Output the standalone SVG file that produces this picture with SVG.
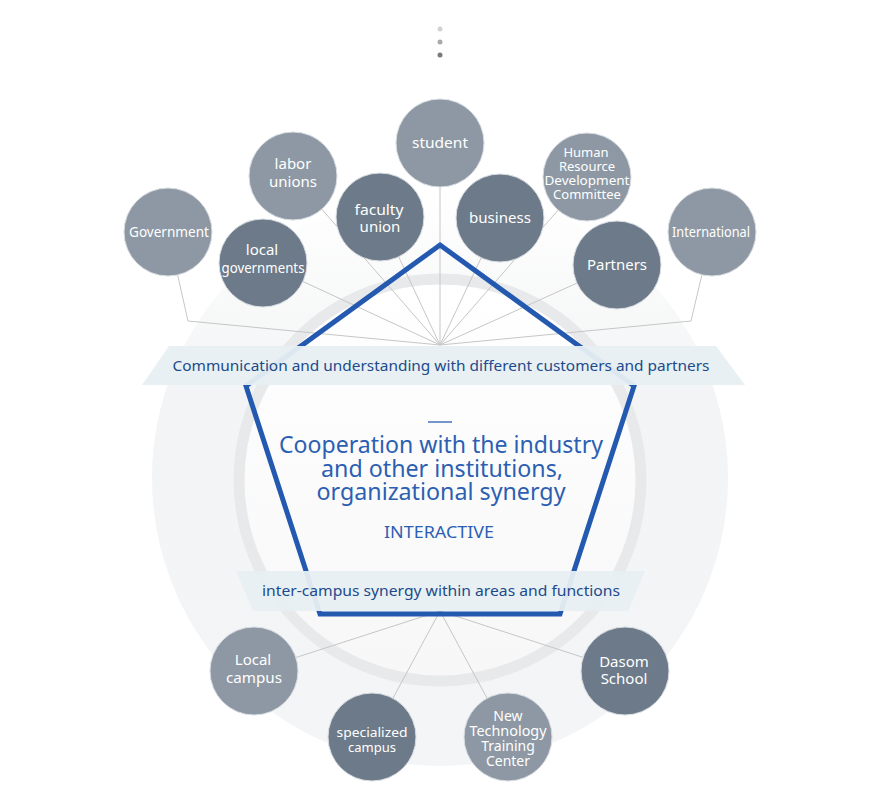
<svg xmlns="http://www.w3.org/2000/svg" width="880" height="806" viewBox="0 0 880 806">
<defs>
<linearGradient id="disc" x1="0" y1="0" x2="0" y2="1">
<stop offset="0" stop-color="#ffffff"/>
<stop offset="0.35" stop-color="#f3f4f5"/>
<stop offset="1" stop-color="#f4f5f6"/>
</linearGradient>
<linearGradient id="inner" x1="0" y1="0" x2="0" y2="1">
<stop offset="0" stop-color="#ffffff"/>
<stop offset="1" stop-color="#f7f7f8"/>
</linearGradient>
<style>
.light{fill:#8d98a4;stroke:#d9dde2;stroke-width:1}
.dark{fill:#6c7a89;stroke:#d9dde2;stroke-width:1}
.nt{font-family:"Noto Sans","Liberation Sans",sans-serif;font-size:15px;fill:#ffffff;text-anchor:middle}
.sm{font-size:13px}
.conn{fill:none;stroke:#c6c6c6;stroke-width:1}
.band{fill:#e7eff3;fill-opacity:0.95}
.bt{font-family:"Noto Sans","Liberation Sans",sans-serif;font-size:15px;fill:#1d4a8a;text-anchor:middle}
.title{font-family:"Noto Sans","Liberation Sans",sans-serif;font-size:23px;fill:#2c5fb2;text-anchor:middle}
</style>
</defs>
<rect width="880" height="806" fill="#ffffff"/>
<g id="dots">
<circle cx="440" cy="29" r="2.5" fill="#d2d2d2"/>
<circle cx="440" cy="42" r="2.5" fill="#a9a9a9"/>
<circle cx="440" cy="55" r="2.5" fill="#7a7a7a"/>
</g>
<g id="background">
<circle cx="440" cy="478" r="288" fill="url(#disc)"/>
<circle cx="440" cy="480" r="201" fill="url(#inner)" stroke="#e8e9ea" stroke-width="11"/>
</g>
<g id="connectors">
<line class="conn" x1="440" y1="143" x2="440" y2="345"/>
<line class="conn" x1="293" y1="176" x2="440" y2="345"/>
<polyline class="conn" points="168,232 188,321 440,345"/>
<line class="conn" x1="263" y1="263" x2="440" y2="345"/>
<line class="conn" x1="380" y1="217" x2="440" y2="345"/>
<line class="conn" x1="500" y1="218" x2="440" y2="345"/>
<line class="conn" x1="587" y1="177" x2="440" y2="345"/>
<line class="conn" x1="617" y1="265" x2="440" y2="345"/>
<polyline class="conn" points="712,232 691,321 440,345"/>
<line class="conn" x1="254" y1="671" x2="440" y2="611"/>
<line class="conn" x1="372" y1="737" x2="440" y2="611"/>
<line class="conn" x1="508" y1="737" x2="440" y2="611"/>
<line class="conn" x1="625" y1="671" x2="440" y2="611"/>
</g>
<g id="pentagon">
<polygon points="440,245 634,386 560,614 320,614 246,386" fill="none" stroke="#2459b0" stroke-width="5" stroke-linejoin="miter"/>
</g>
<g id="banner-top">
<polygon class="band" points="169,346 716,346 745,385 142,385"/>
<text class="bt" x="441" y="371" textLength="537" lengthAdjust="spacingAndGlyphs">Communication and understanding with different customers and partners</text>
</g>
<g id="center">
<line x1="428" y1="422" x2="452" y2="422" stroke="#2c5fb2" stroke-width="1.3"/>
<text class="title" x="441" y="453" textLength="324" lengthAdjust="spacingAndGlyphs">Cooperation with the industry</text>
<text class="title" x="442" y="477" textLength="242" lengthAdjust="spacingAndGlyphs">and other institutions,</text>
<text class="title" x="441" y="500" textLength="249" lengthAdjust="spacingAndGlyphs">organizational synergy</text>
<text class="title" x="439" y="538" style="font-size:17px" textLength="110" lengthAdjust="spacingAndGlyphs">INTERACTIVE</text>
</g>
<g id="banner-bottom">
<polygon class="band" points="236,571 645,571 628,611 253,611"/>
<text class="bt" x="441" y="596" textLength="358" lengthAdjust="spacingAndGlyphs">inter-campus synergy within areas and functions</text>
</g>
<g id="node-student">
<circle class="light" cx="440" cy="143" r="44"/>
<text class="nt" x="440" y="148" textLength="56" lengthAdjust="spacingAndGlyphs">student</text>
</g>
<g id="node-labor-unions">
<circle class="light" cx="293" cy="176" r="44"/>
<text class="nt" x="293" y="169">labor</text>
<text class="nt" x="293" y="187">unions</text>
</g>
<g id="node-government">
<circle class="light" cx="168" cy="232" r="44"/>
<text class="nt" x="169" y="237" textLength="80" lengthAdjust="spacingAndGlyphs">Government</text>
</g>
<g id="node-local-governments">
<circle class="dark" cx="263" cy="263" r="44"/>
<text class="nt" x="262" y="255">local</text>
<text class="nt" x="263" y="273" textLength="83" lengthAdjust="spacingAndGlyphs">governments</text>
</g>
<g id="node-faculty-union">
<circle class="dark" cx="380" cy="217" r="44"/>
<text class="nt" x="379" y="215" textLength="49" lengthAdjust="spacingAndGlyphs">faculty</text>
<text class="nt" x="380" y="232">union</text>
</g>
<g id="node-business">
<circle class="dark" cx="500" cy="218" r="44"/>
<text class="nt" x="500" y="223" textLength="62" lengthAdjust="spacingAndGlyphs">business</text>
</g>
<g id="node-hrdc">
<circle class="light" cx="587" cy="177" r="44"/>
<text class="nt sm" x="586" y="157">Human</text>
<text class="nt sm" x="587" y="171">Resource</text>
<text class="nt sm" x="587" y="185" textLength="85" lengthAdjust="spacingAndGlyphs">Development</text>
<text class="nt sm" x="587" y="199">Committee</text>
</g>
<g id="node-partners">
<circle class="dark" cx="617" cy="265" r="44"/>
<text class="nt" x="617" y="270" textLength="60" lengthAdjust="spacingAndGlyphs">Partners</text>
</g>
<g id="node-international">
<circle class="light" cx="712" cy="232" r="44"/>
<text class="nt" x="711" y="237" textLength="78" lengthAdjust="spacingAndGlyphs">International</text>
</g>
<g id="node-local-campus">
<circle class="light" cx="254" cy="671" r="44"/>
<text class="nt" x="253" y="665">Local</text>
<text class="nt" x="254" y="683" textLength="56" lengthAdjust="spacingAndGlyphs">campus</text>
</g>
<g id="node-specialized-campus">
<circle class="dark" cx="372" cy="737" r="44"/>
<text class="nt sm" x="372" y="737" textLength="71" lengthAdjust="spacingAndGlyphs">specialized</text>
<text class="nt sm" x="372" y="752">campus</text>
</g>
<g id="node-new-tech">
<circle class="light" cx="508" cy="737" r="44"/>
<text class="nt" style="font-size:14px" x="508" y="721">New</text>
<text class="nt" style="font-size:14px" x="508" y="736" textLength="77" lengthAdjust="spacingAndGlyphs">Technology</text>
<text class="nt" style="font-size:14px" x="508" y="751">Training</text>
<text class="nt" style="font-size:14px" x="508" y="766">Center</text>
</g>
<g id="node-dasom">
<circle class="dark" cx="625" cy="671" r="44"/>
<text class="nt" x="624" y="667">Dasom</text>
<text class="nt" x="624" y="684">School</text>
</g>
</svg>
